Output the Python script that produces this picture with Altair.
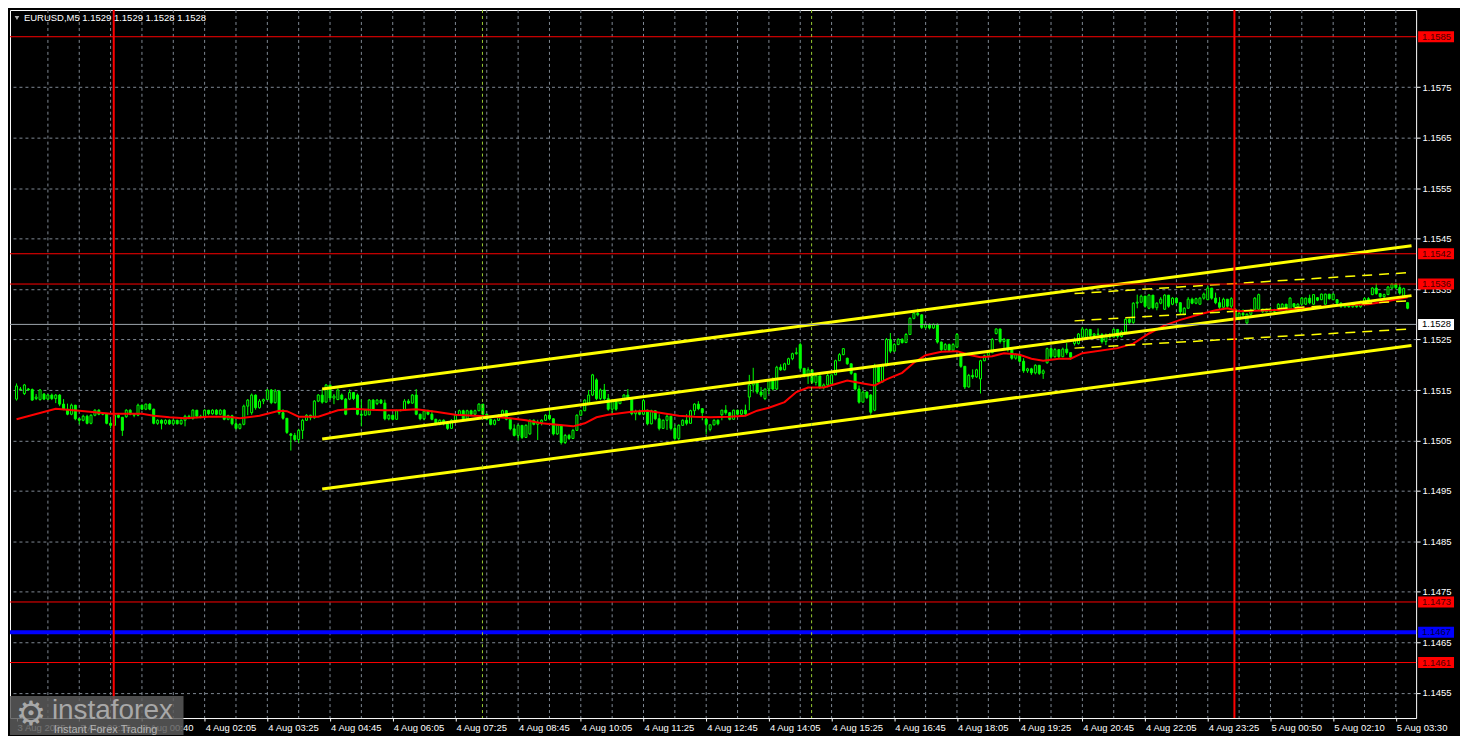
import altair as alt
import pandas as pd

# quotes are kept in pips above this level
BASE = 1.15
FONT = "Liberation Sans"
W, H = 1410, 710

# bar index 0 = "4 Aug 02:05", one M5 bar per step
first_bar = -48
bar_open = [
    13.2, 15.2, 14.3, 15.2, 15.1, 13.3, 13.1, 14.2, 13.2, 14.0,
    13.3, 14.0, 12.2, 11.2, 10.2, 12.0, 9.3, 9.0, 9.8, 8.4,
    10.0, 11.0, 10.2, 10.3, 8.4, 8.0, 10.0, 9.6, 9.7, 11.0,
    10.2, 10.0, 12.0, 11.2, 12.2, 11.2, 8.4, 9.0, 8.4, 9.0,
    8.3, 9.0, 8.3, 9.0, 9.8, 9.4, 11.0, 9.8, 9.6, 11.0,
    10.3, 11.0, 10.2, 11.0, 9.2, 9.9, 8.3, 7.4, 8.2, 11.8,
    10.5, 14.0, 11.5, 12.8, 13.1, 15.0, 12.5, 14.8, 10.5, 9.4,
    6.3, 6.0, 5.2, 7.0, 9.0, 10.0, 9.5, 12.8, 14.0, 12.6,
    16.0, 13.4, 13.1, 14.0, 13.2, 13.2, 14.5, 14.0, 10.2, 10.0,
    10.1, 13.0, 12.3, 13.0, 12.4, 9.3, 10.0, 9.2, 10.9, 11.0,
    12.8, 12.4, 14.0, 10.2, 9.3, 10.8, 10.2, 9.2, 8.2, 9.0,
    8.3, 7.4, 9.0, 10.0, 10.9, 9.3, 10.9, 10.2, 10.9, 12.2,
    10.2, 9.2, 8.2, 9.0, 10.0, 10.9, 9.2, 7.3, 6.0, 8.0,
    5.6, 6.3, 9.0, 8.2, 8.6, 9.0, 10.0, 9.3, 6.3, 8.0,
    4.6, 6.0, 5.4, 7.0, 10.0, 10.9, 12.4, 14.0, 17.0, 13.3,
    15.0, 13.3, 11.2, 12.9, 12.3, 13.0, 14.0, 13.3, 10.3, 10.8,
    10.2, 11.0, 8.3, 10.9, 9.3, 7.4, 9.0, 9.8, 7.4, 5.4,
    8.0, 9.0, 8.4, 10.9, 12.2, 11.3, 9.2, 7.2, 8.1, 9.0,
    10.1, 11.0, 10.5, 9.2, 11.0, 10.2, 11.0, 13.6, 16.0, 16.5,
    14.6, 13.3, 15.2, 16.8, 15.2, 19.5, 19.0, 20.1, 21.2, 22.2,
    24.0, 19.3, 17.8, 19.0, 16.5, 17.8, 15.5, 16.0, 16.2, 18.0,
    20.8, 22.0, 21.3, 20.2, 18.3, 15.2, 12.6, 14.6, 14.0, 11.0,
    19.8, 16.6, 19.8, 25.0, 22.7, 24.0, 25.0, 24.4, 26.0, 29.2,
    30.2, 29.9, 27.4, 28.0, 27.3, 28.0, 24.5, 23.0, 24.0, 22.9,
    23.5, 22.3, 19.7, 15.6, 17.9, 17.6, 17.2, 20.8, 21.8, 22.4,
    26.2, 27.1, 24.6, 25.0, 23.0, 21.3, 22.0, 20.7, 18.8, 19.2,
    18.4, 19.9, 18.3, 20.4, 23.2, 21.6, 23.0, 21.6, 23.1, 22.4,
    24.2, 24.2, 25.5, 25.2, 27.0, 25.8, 26.1, 26.0, 24.6, 25.9,
    25.5, 27.0, 25.6, 26.5, 29.0, 28.4, 32.2, 32.4, 33.6, 31.2,
    33.8, 31.3, 32.2, 31.0, 33.8, 32.0, 33.2, 32.3, 30.0, 31.2,
    33.0, 32.2, 32.0, 33.2, 32.9, 35.2, 33.2, 32.3, 31.4, 33.0,
    31.6, 31.0, 29.0, 30.2, 28.3, 30.0, 31.0, 31.0, 31.0, 30.5,
    31.0, 30.6, 31.0, 31.0, 32.0, 31.0, 32.1, 31.5, 32.0, 32.0,
    33.2, 32.0, 33.3, 32.9, 32.0, 34.0, 32.9, 32.9, 32.2, 31.5,
    31.8, 31.5, 31.8, 31.5, 32.5, 33.1, 33.9, 35.2, 34.1, 33.5,
    33.9, 35.2, 36.0, 35.3, 33.6, 32.3,
]
bar_high = [
    16.3, 15.6, 16.2, 15.4, 15.3, 14.2, 15.2, 14.4, 14.2, 14.3,
    14.2, 14.2, 13.2, 12.3, 12.3, 12.0, 9.4, 10.1, 10.1, 10.2,
    11.2, 11.2, 10.4, 10.4, 9.2, 10.2, 10.2, 9.6, 11.2, 11.2,
    10.4, 12.3, 12.1, 12.3, 12.4, 11.3, 9.2, 9.2, 9.2, 9.2,
    9.2, 9.1, 9.2, 10.1, 10.1, 11.2, 11.0, 10.1, 11.2, 11.0,
    11.2, 11.2, 11.2, 11.2, 10.1, 10.1, 9.2, 8.4, 12.1, 13.2,
    14.3, 14.1, 13.2, 13.3, 15.2, 15.2, 15.2, 14.8, 11.2, 9.4,
    6.5, 6.5, 7.3, 9.3, 10.2, 10.1, 13.0, 14.2, 15.2, 16.2,
    16.0, 14.2, 15.3, 14.3, 13.4, 15.1, 14.6, 14.3, 13.1, 11.1,
    13.2, 13.2, 13.2, 13.2, 13.1, 10.2, 10.2, 11.1, 11.2, 13.2,
    13.2, 14.2, 15.2, 10.3, 11.1, 11.1, 11.0, 9.3, 9.2, 9.2,
    8.4, 9.2, 10.2, 11.1, 11.1, 11.1, 11.1, 11.1, 12.4, 12.2,
    10.3, 9.3, 9.2, 10.2, 11.1, 11.0, 9.3, 8.2, 8.2, 8.0,
    8.2, 9.2, 9.2, 9.1, 9.2, 10.2, 11.1, 9.4, 8.2, 8.0,
    6.3, 6.3, 7.3, 10.2, 11.1, 13.2, 15.0, 18.2, 17.3, 15.3,
    16.2, 14.2, 13.2, 13.2, 13.2, 14.2, 15.2, 13.3, 11.1, 11.1,
    13.2, 11.1, 11.1, 10.9, 10.2, 9.2, 10.2, 9.8, 8.2, 8.2,
    9.2, 10.2, 11.1, 12.4, 12.8, 11.4, 9.4, 8.2, 9.2, 9.2,
    11.1, 12.0, 10.6, 11.1, 11.1, 11.1, 12.1, 18.0, 19.4, 16.6,
    15.6, 15.3, 17.2, 17.5, 19.8, 20.1, 20.4, 21.4, 22.4, 23.4,
    24.4, 19.3, 19.5, 19.0, 18.2, 17.8, 16.3, 18.2, 18.1, 21.0,
    22.3, 23.3, 21.4, 20.2, 18.3, 15.9, 14.9, 14.7, 14.2, 20.2,
    19.8, 20.2, 25.3, 26.3, 24.3, 25.3, 25.3, 26.3, 29.4, 30.4,
    31.1, 30.0, 28.2, 28.2, 28.2, 28.2, 24.6, 24.3, 24.2, 24.3,
    26.3, 22.5, 19.7, 18.2, 19.1, 19.2, 21.0, 22.0, 22.7, 25.3,
    27.2, 27.1, 25.3, 25.0, 23.0, 22.3, 22.1, 21.3, 19.4, 19.4,
    20.1, 19.9, 19.1, 23.4, 23.3, 23.3, 23.0, 23.4, 24.3, 22.4,
    25.4, 26.3, 27.5, 27.2, 27.0, 26.3, 27.2, 26.3, 26.2, 26.3,
    27.2, 27.0, 26.8, 29.2, 29.2, 32.4, 33.9, 33.9, 33.6, 34.0,
    33.8, 32.4, 33.4, 34.0, 33.8, 33.4, 33.3, 32.4, 31.4, 33.4,
    33.3, 33.3, 33.4, 34.3, 35.6, 35.2, 34.3, 33.4, 33.3, 33.0,
    33.4, 31.2, 30.5, 31.0, 30.2, 31.1, 33.4, 34.1, 31.1, 31.1,
    31.4, 31.1, 32.2, 32.2, 32.1, 33.4, 32.2, 32.2, 33.4, 33.3,
    33.9, 34.0, 33.4, 34.1, 34.1, 34.0, 34.1, 33.0, 32.4, 32.0,
    32.0, 32.0, 32.0, 32.7, 33.4, 33.4, 35.4, 36.1, 34.2, 34.1,
    35.6, 36.2, 36.2, 36.1, 35.3, 32.4,
]
bar_low = [
    12.9, 14.9, 14.0, 14.9, 12.9, 13.0, 12.9, 13.0, 13.0, 13.0,
    12.4, 11.8, 11.0, 10.0, 10.0, 9.0, 8.2, 8.8, 8.2, 8.2,
    9.8, 10.0, 10.0, 8.2, 7.4, 8.0, 9.4, 5.9, 9.5, 10.0,
    9.6, 9.8, 11.0, 11.0, 11.0, 8.2, 8.1, 7.2, 8.1, 8.1,
    8.1, 8.2, 8.1, 7.8, 9.2, 9.1, 9.4, 9.4, 9.5, 10.0,
    10.1, 10.0, 10.0, 9.0, 9.0, 8.0, 7.2, 7.2, 8.0, 10.0,
    10.1, 11.1, 11.3, 12.2, 13.0, 12.2, 12.3, 10.1, 9.1, 6.3,
    3.0, 4.8, 4.5, 5.3, 8.9, 9.0, 9.3, 12.6, 12.3, 12.5,
    13.0, 12.2, 13.0, 13.0, 10.0, 13.0, 13.0, 10.0, 7.8, 9.9,
    10.0, 10.9, 12.0, 12.2, 9.0, 9.0, 9.0, 9.1, 10.8, 10.9,
    12.2, 12.3, 10.0, 9.0, 9.0, 10.0, 9.0, 8.0, 8.0, 8.0,
    7.1, 7.3, 8.9, 9.9, 9.0, 9.2, 10.0, 10.0, 10.8, 10.0,
    9.0, 8.0, 8.0, 8.9, 9.9, 9.0, 7.0, 5.8, 5.0, 5.3,
    5.5, 6.1, 8.0, 5.1, 8.0, 8.9, 9.0, 6.0, 6.1, 4.2,
    4.3, 5.1, 5.3, 6.9, 9.9, 10.8, 12.0, 13.8, 13.0, 13.0,
    13.0, 10.9, 10.0, 10.9, 12.2, 12.9, 13.0, 10.0, 9.0, 10.0,
    10.0, 8.0, 8.2, 9.0, 7.0, 7.3, 7.1, 7.0, 5.0, 5.1,
    7.9, 8.0, 8.3, 10.0, 11.0, 9.0, 6.2, 6.8, 8.0, 8.0,
    9.0, 10.1, 9.0, 9.1, 10.0, 10.0, 10.0, 11.0, 14.5, 14.2,
    13.6, 13.0, 14.2, 14.9, 15.0, 18.8, 18.9, 20.0, 20.9, 22.0,
    19.0, 17.5, 16.2, 16.2, 15.9, 15.2, 15.1, 15.5, 16.0, 18.0,
    20.8, 21.9, 20.0, 18.0, 14.9, 12.3, 12.5, 13.2, 10.1, 10.8,
    16.2, 16.5, 19.7, 22.3, 22.6, 23.9, 24.2, 24.3, 26.0, 29.0,
    29.6, 27.1, 27.1, 27.0, 27.1, 24.2, 22.6, 22.8, 22.6, 22.8,
    23.3, 19.4, 15.2, 15.5, 17.2, 17.4, 14.3, 20.7, 21.5, 22.3,
    26.0, 24.2, 23.3, 22.6, 21.0, 21.0, 20.4, 18.4, 18.4, 18.0,
    18.1, 18.0, 17.2, 20.2, 21.3, 21.4, 21.3, 21.5, 22.0, 21.0,
    23.8, 24.0, 25.3, 25.0, 25.5, 25.5, 25.8, 24.2, 23.9, 25.2,
    25.4, 25.2, 25.4, 26.5, 28.1, 28.1, 31.2, 32.2, 31.3, 31.0,
    31.0, 30.8, 32.0, 30.9, 31.3, 31.8, 32.0, 30.0, 29.8, 31.2,
    32.0, 32.0, 31.9, 32.9, 32.8, 32.9, 32.0, 31.0, 31.3, 31.3,
    31.0, 28.5, 28.8, 29.6, 27.9, 29.8, 30.9, 30.9, 30.3, 30.4,
    30.4, 29.9, 30.9, 30.9, 30.7, 30.9, 31.3, 31.3, 31.9, 31.9,
    32.0, 31.9, 32.6, 32.8, 31.9, 32.9, 32.8, 32.0, 31.3, 31.3,
    31.3, 31.3, 31.3, 31.3, 32.0, 32.3, 33.8, 33.9, 33.3, 33.2,
    33.8, 35.0, 35.0, 33.9, 33.5, 31.0,
]
bar_close = [
    15.8, 15.1, 16.0, 15.0, 13.0, 13.6, 15.0, 13.2, 14.0, 13.3,
    14.0, 12.2, 11.2, 10.2, 12.0, 9.3, 9.0, 9.8, 8.4, 10.0,
    11.0, 10.2, 10.3, 8.4, 8.0, 10.0, 9.6, 7.0, 11.0, 10.2,
    10.0, 12.0, 11.2, 12.2, 11.2, 8.4, 9.0, 8.4, 9.0, 8.3,
    9.0, 8.3, 9.0, 9.8, 9.4, 11.0, 9.8, 9.6, 11.0, 10.3,
    11.0, 10.2, 11.0, 9.2, 9.9, 8.3, 7.4, 8.2, 11.8, 13.0,
    14.0, 11.5, 12.8, 13.1, 15.0, 12.5, 14.8, 10.5, 9.4, 6.6,
    6.0, 5.2, 7.0, 9.0, 10.0, 9.5, 12.8, 14.0, 12.6, 16.0,
    13.4, 13.8, 15.0, 13.2, 10.2, 14.5, 13.3, 10.2, 10.0, 11.0,
    13.0, 11.2, 13.0, 12.4, 9.3, 10.0, 9.2, 10.9, 11.0, 12.8,
    12.4, 14.0, 10.2, 9.3, 10.8, 10.2, 9.2, 8.2, 9.0, 8.3,
    7.4, 9.0, 10.0, 10.9, 9.3, 10.9, 10.2, 10.9, 12.2, 10.2,
    9.2, 8.2, 9.0, 10.0, 10.9, 9.2, 7.3, 6.0, 8.0, 5.6,
    8.0, 9.0, 8.2, 8.6, 9.0, 10.0, 9.3, 6.3, 8.0, 4.6,
    6.0, 5.4, 7.0, 10.0, 10.9, 13.0, 14.0, 18.0, 13.3, 15.0,
    13.3, 11.2, 12.9, 11.2, 13.0, 14.0, 13.3, 10.3, 10.8, 10.2,
    12.9, 8.3, 10.9, 9.3, 7.4, 9.0, 9.8, 7.4, 5.4, 8.0,
    9.0, 8.4, 10.9, 12.2, 11.3, 10.5, 8.2, 8.1, 9.0, 8.3,
    11.0, 10.5, 9.2, 11.0, 10.2, 11.0, 10.3, 16.0, 16.5, 14.6,
    14.0, 15.2, 16.8, 15.2, 19.5, 19.0, 20.2, 21.2, 22.2, 22.4,
    19.3, 17.8, 19.0, 16.5, 17.8, 15.5, 16.0, 17.9, 18.0, 20.8,
    22.0, 23.2, 20.2, 18.3, 15.2, 12.6, 14.6, 13.5, 10.6, 19.8,
    16.6, 19.8, 25.0, 22.7, 24.0, 25.0, 24.4, 26.0, 29.2, 30.2,
    29.9, 27.4, 28.0, 27.3, 28.0, 24.5, 23.0, 24.0, 22.9, 24.0,
    26.0, 19.7, 15.6, 17.9, 17.6, 19.0, 20.8, 21.8, 22.4, 25.0,
    27.1, 24.6, 25.0, 23.0, 21.3, 22.0, 20.7, 18.8, 19.2, 18.4,
    19.9, 18.3, 18.8, 23.2, 21.6, 23.0, 21.6, 23.1, 22.4, 21.5,
    24.8, 26.1, 27.1, 27.0, 25.8, 26.1, 26.0, 24.6, 25.9, 25.5,
    27.0, 25.6, 26.5, 29.0, 28.4, 32.2, 32.4, 33.6, 31.6, 33.8,
    31.3, 32.2, 33.0, 33.8, 31.6, 33.2, 32.3, 30.5, 31.2, 33.0,
    32.2, 33.1, 33.2, 34.0, 35.2, 33.2, 32.3, 31.4, 33.0, 31.6,
    33.1, 29.0, 30.2, 29.9, 30.0, 30.8, 33.2, 33.9, 30.5, 31.0,
    30.6, 30.9, 32.0, 32.0, 31.0, 33.2, 31.5, 32.0, 33.2, 33.2,
    32.3, 33.9, 32.8, 34.0, 34.0, 33.1, 34.0, 32.2, 31.5, 31.8,
    31.5, 31.8, 31.5, 32.5, 33.1, 32.6, 35.2, 34.1, 33.5, 33.9,
    35.4, 36.0, 35.3, 34.2, 35.1, 31.2,
]

# red moving average, read at a handful of bars
ma_bar = [-48, -38, -32, -24, -16, -13, -9, -5, 1, 6,
          9, 14, 19, 21, 24, 29, 34, 38, 42, 46,
          50, 54, 59, 64, 69, 74, 78, 82, 86, 90,
          94, 97, 100, 103, 109, 113, 117, 121, 125, 129,
          134, 138, 141, 144, 148, 151, 154, 158, 161, 164,
          168, 171, 174, 178, 181, 184, 188, 192, 195, 198,
          201, 204, 208, 211, 214, 218, 221, 224, 233, 237,
          241, 245, 249, 254, 258, 261, 264, 268, 272, 280,
          289, 297, 301, 305, 307]
ma_pips = [9.2, 11.3, 10.9, 10.3, 10.3, 9.9, 9.6, 9.4, 9.7, 9.7,
           9.4, 9.9, 10.9, 10.8, 9.7, 9.7, 11.0, 11.3, 11.1, 11.0,
           11.0, 11.2, 10.7, 10.1, 9.9, 9.7, 9.4, 9.0, 8.4, 8.1,
           7.8, 8.4, 9.6, 10.1, 10.7, 10.9, 10.4, 9.9, 9.7, 9.6,
           9.7, 9.9, 10.9, 11.5, 12.6, 14.6, 15.5, 15.5, 16.2, 16.9,
           16.3, 15.9, 17.1, 18.4, 20.4, 21.9, 22.6, 22.7, 22.0, 21.5,
           21.7, 22.3, 22.0, 21.2, 20.8, 21.2, 21.2, 22.3, 23.3, 24.2,
           26.2, 27.8, 28.9, 30.0, 30.8, 31.2, 30.6, 30.7, 30.8, 31.1,
           31.8, 32.0, 32.5, 33.1, 33.4]

# regression channels: [start bar, end bar] and prices at both ends
channel_bar = [30, 308]
channel_upper = [1.15152, 1.15436]
channel_middle = [1.15053, 1.15337]
channel_lower = [1.14954, 1.15238]
short_bar = [222, 308]
short_upper = [1.15341, 1.15383]
short_middle = [1.15287, 1.15327]
short_lower = [1.15233, 1.15271]

red_levels = [1.1585, 1.1542, 1.1536, 1.1473, 1.1461]
blue_level = 1.1467
bid_price = 1.1528
day_breaks = [-23.2, 262.8]
separator_bars = [70.9, 154.9]

price_ticks = [1.1455, 1.1465, 1.1475, 1.1485, 1.1495, 1.1505, 1.1515,
               1.1525, 1.1535, 1.1545, 1.1555, 1.1565, 1.1575]
label_bars = [-48, -32, -16, 0, 16, 32, 48, 64, 80, 96, 112, 128, 144,
              160, 176, 192, 208, 224, 240, 256, 272, 288, 304]
time_labels = ["3 Aug 2025", "3 Aug 22:15", "4 Aug 00:40", "4 Aug 02:05",
               "4 Aug 03:25", "4 Aug 04:45", "4 Aug 06:05", "4 Aug 07:25",
               "4 Aug 08:45", "4 Aug 10:05", "4 Aug 11:25", "4 Aug 12:45",
               "4 Aug 14:05", "4 Aug 15:25", "4 Aug 16:45", "4 Aug 18:05",
               "4 Aug 19:25", "4 Aug 20:45", "4 Aug 22:05", "4 Aug 23:25",
               "5 Aug 00:50", "5 Aug 02:10", "5 Aug 03:30"]
grid_bars = list(range(-40, 305, 8))
title_text = "EURUSD,M5  1.1529 1.1529 1.1528 1.1528"

GRID = "#7f8994"
LIME = "#00ff00"

bars = pd.DataFrame({
    "k": range(first_bar, first_bar + len(bar_close)),
    "open": [BASE + v / 10000 for v in bar_open],
    "high": [BASE + v / 10000 for v in bar_high],
    "low": [BASE + v / 10000 for v in bar_low],
    "close": [BASE + v / 10000 for v in bar_close],
})
bars["body"] = ["#000000" if c > o else LIME for o, c in zip(bars["open"], bars["close"])]

ma_df = pd.DataFrame({"k": ma_bar, "price": [BASE + v / 10000 for v in ma_pips]})


def channel_frame(ks, upper, middle, lower):
    rows = []
    for name, ends in (("upper", upper), ("middle", middle), ("lower", lower)):
        rows += [{"k": k, "price": p, "line": name} for k, p in zip(ks, ends)]
    return pd.DataFrame(rows)


xs = alt.Scale(domain=[-48.4, 307.9], nice=False, zero=False)
ys = alt.Scale(domain=[1.14500, 1.15903], nice=False, zero=False)

# every layer carries the same axis spec so the merged axes survive
x_axis = alt.Axis(values=label_bars, labels=False, ticks=True, tickColor="white",
                  tickSize=3, domain=False, grid=False)
y_axis = alt.Axis(orient="right", values=price_ticks, format=".4f", labelColor="white",
                  labelFont=FONT, labelFontSize=9.5, tickColor="white", tickSize=4,
                  labelPadding=2, domain=False, grid=True, gridColor=GRID,
                  gridDash=[3, 3], gridWidth=1)
X = alt.X("k:Q", scale=xs, axis=x_axis, title=None)


def Y(field):
    return alt.Y(f"{field}:Q", scale=ys, axis=y_axis, title=None)


vgrid = alt.Chart(pd.DataFrame({"k": grid_bars})).mark_rule(
    color=GRID, strokeDash=[3, 3], strokeWidth=1
).encode(x=X)

wicks = alt.Chart(bars).mark_rule(color=LIME, strokeWidth=1).encode(
    x=X, y=Y("low"), y2="high:Q"
)

bodies = alt.Chart(bars).mark_bar(width=2, stroke=LIME, strokeWidth=1).encode(
    x=X, y=Y("open"), y2="close:Q", fill=alt.Fill("body:N", scale=None)
)

ma = alt.Chart(ma_df).mark_line(color="#ff0000", strokeWidth=2).encode(x=X, y=Y("price"))

channel = alt.Chart(channel_frame(channel_bar, channel_upper, channel_middle, channel_lower)).mark_line(
    color="#ffff00", strokeWidth=3, clip=True
).encode(x=X, y=Y("price"), detail="line:N")

short_channel = alt.Chart(channel_frame(short_bar, short_upper, short_middle, short_lower)).mark_line(
    color="#ffff00", strokeWidth=1.5, strokeDash=[10, 7], clip=True
).encode(x=X, y=Y("price"), detail="line:N")

red_lines = alt.Chart(pd.DataFrame({"price": red_levels})).mark_rule(
    color="#ff0000", strokeWidth=1
).encode(y=Y("price"))

blue_line = alt.Chart(pd.DataFrame({"price": [blue_level]})).mark_rule(
    color="#0000ff", strokeWidth=4
).encode(y=Y("price"))

bid_line = alt.Chart(pd.DataFrame({"price": [bid_price]})).mark_rule(
    color="#9ea6ae", strokeWidth=1
).encode(y=Y("price"))

day_lines = alt.Chart(pd.DataFrame({"k": day_breaks})).mark_rule(
    color="#ff0000", strokeWidth=2
).encode(x=X)

sep_lines = alt.Chart(pd.DataFrame({"k": separator_bars})).mark_rule(
    color="#9acd32", strokeWidth=1, strokeDash=[3, 3]
).encode(x=X)

tags = pd.DataFrame({
    "price": red_levels + [blue_level, bid_price],
    "fill": ["#ff0000"] * len(red_levels) + ["#0000ff", "#ffffff"],
    "ink": ["#4a0000"] * len(red_levels) + ["#000040", "#000000"],
})
tag_boxes = alt.Chart(tags).mark_rule(strokeWidth=11).encode(
    x=alt.value(W + 2), x2=alt.value(W + 38), y=Y("price"), color=alt.Color("fill:N", scale=None)
)
tag_text = alt.Chart(tags).mark_text(align="left", baseline="middle", font=FONT, fontSize=9.5).encode(
    x=alt.value(W + 6), y=Y("price"), text=alt.Text("price:Q", format=".4f"),
    color=alt.Color("ink:N", scale=None)
)

x_labels = alt.Chart(pd.DataFrame({"k": label_bars, "label": time_labels})).mark_text(
    align="left", baseline="top", font=FONT, fontSize=9.5, color="white", dx=1
).encode(x=X, y=alt.value(H + 5), text="label:N")

one = pd.DataFrame({"a": [0]})
title_mark = alt.Chart(one).mark_point(shape="triangle-down", filled=True, color="white", size=22).encode(
    x=alt.value(7), y=alt.value(8)
)
title = alt.Chart(one).mark_text(
    align="left", baseline="middle", font=FONT, fontSize=9.5, color="white"
).encode(x=alt.value(14), y=alt.value(8), text=alt.value(title_text))

wm_box = alt.Chart(one).mark_rect(color="#5c5c5c", opacity=0.85).encode(
    x=alt.value(0), x2=alt.value(174), y=alt.value(688), y2=alt.value(727)
)
wm_gear = alt.Chart(one).mark_text(
    font="DejaVu Sans", fontSize=34, color="#a8a8a8", baseline="middle", align="center"
).encode(x=alt.value(21), y=alt.value(707), text=alt.value("\u2699"))
wm_name = alt.Chart(one).mark_text(
    font=FONT, fontSize=28, color="#a8a8a8", baseline="alphabetic", align="left"
).encode(x=alt.value(42), y=alt.value(711), text=alt.value("instaforex"))
wm_tag = alt.Chart(one).mark_text(
    font=FONT, fontSize=11, color="#b4b4b4", baseline="alphabetic", align="left"
).encode(x=alt.value(44), y=alt.value(725), text=alt.value("Instant Forex Trading"))

chart = alt.layer(
    vgrid, wicks, bodies, ma, channel, short_channel, red_lines, blue_line, bid_line,
    day_lines, sep_lines, tag_boxes, tag_text, x_labels, title_mark, title,
    wm_box, wm_gear, wm_name, wm_tag,
).properties(
    width=W, height=H, background="black", padding=0
).configure_view(stroke="white", strokeWidth=1, fill="black")

chart.save("out.html", embed_options={"renderer": "svg", "actions": False})
